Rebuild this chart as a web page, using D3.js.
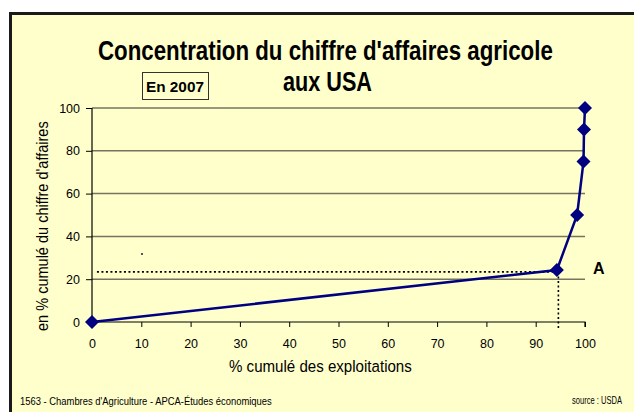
<!DOCTYPE html>
<html>
<head>
<meta charset="utf-8">
<script src="https://cdn.jsdelivr.net/npm/d3@7"></script>
<style>
  body { margin: 0; background: #fff; }
  text { font-family: "Liberation Sans", Arial, sans-serif; }
</style>
</head>
<body>
<svg id="chart"></svg>
<script>
// cumulative % of farms vs cumulative % of turnover (USA, 2007)
const pctFarms = [0, 94.3, 98.4, 99.7, 99.8, 100];
const pctTurnover = [0, 24.3, 50, 75, 90, 100];
const xTicks = [0, 10, 20, 30, 40, 50, 60, 70, 80, 90, 100];
const yTicks = [0, 20, 40, 60, 80, 100];
// point A reference lines
const refX = 94.6;
const refY = 23.4;

const width = 634, height = 412;
const margin = ({ top: 108, right: 49, bottom: 90, left: 92 });

const svg = d3.select("#chart")
    .attr("width", width)
    .attr("height", height);

// frame
svg.append("rect")
    .attr("x", 10.5).attr("y", 13.5)
    .attr("width", width + 10).attr("height", height + 10)
    .attr("fill", "#ffffcc")
    .attr("stroke", "#1a1a1a")
    .attr("stroke-width", 3);

let xScale = d3.scaleLinear().domain([0, 100]).range([margin.left, width - margin.right]);
let yScale = d3.scaleLinear().domain([0, 100]).range([height - margin.bottom, margin.top]);

// the original text is squeezed horizontally: scale each label to its width
function fitText(x, y, w, size, bold, str, rotate) {
    const t = svg.append("text")
        .attr("font-size", size)
        .attr("font-weight", bold ? "bold" : "normal")
        .text(str);
    const nat = t.node().getComputedTextLength();
    const s = w / nat;
    t.attr("transform", `translate(${x},${y})${rotate ? " rotate(-90)" : ""} scale(${s},1)`);
    return t;
}

// gridlines
svg.append("g")
    .selectAll("line")
    .data(yTicks.filter(d => d > 0))
    .join("line")
    .attr("x1", xScale(0)).attr("x2", xScale(100))
    .attr("y1", d => yScale(d)).attr("y2", d => yScale(d))
    .attr("stroke", "#75755e")
    .attr("stroke-width", 1.5);

// axes
const xAxis = svg.append("g")
    .attr("transform", `translate(0,${yScale(0)})`)
    .call(d3.axisBottom(xScale).tickValues(xTicks).tickSize(5).tickPadding(12));
const yAxis = svg.append("g")
    .attr("transform", `translate(${xScale(0)},0)`)
    .call(d3.axisLeft(yScale).tickValues(yTicks).tickSize(6).tickPadding(6));

[xAxis, yAxis].forEach(a => {
    a.select(".domain").attr("stroke", "#000").attr("stroke-width", 1.2);
    a.selectAll(".tick line").attr("stroke", "#000");
    a.selectAll(".tick text")
        .attr("font-size", 12.5)
        .attr("fill", "#000")
        .attr("font-family", "Liberation Sans Narrow, Liberation Sans, Arial, sans-serif");
});
yAxis.select(".domain").attr("d", `M-0,${yScale(100)}V${yScale(0)}`);
xAxis.select(".domain").attr("d", `M${xScale(0)},0H${xScale(100)}V5`);

// dotted reference lines for point A
svg.append("line")
    .attr("x1", xScale(1)).attr("x2", xScale(refX))
    .attr("y1", yScale(refY)).attr("y2", yScale(refY))
    .attr("stroke", "#000").attr("stroke-width", 1.6)
    .attr("stroke-dasharray", "2,2.5");
svg.append("line")
    .attr("x1", xScale(refX)).attr("x2", xScale(refX))
    .attr("y1", yScale(refY)).attr("y2", yScale(0) + 6)
    .attr("stroke", "#000").attr("stroke-width", 1.6)
    .attr("stroke-dasharray", "2,2.5");

// curve
const pts = pctFarms.map((x, i) => [x, pctTurnover[i]]);
svg.append("path")
    .datum(pts)
    .attr("fill", "none")
    .attr("stroke", "#000080")
    .attr("stroke-width", 2.5)
    .attr("d", d3.line().x(d => xScale(d[0])).y(d => yScale(d[1])));

svg.append("g")
    .selectAll("path")
    .data(pts)
    .join("path")
    .attr("transform", d => `translate(${xScale(d[0])},${yScale(d[1])})`)
    .attr("d", "M0,-7L7,0L0,7L-7,0Z")
    .attr("fill", "#000080");

// stray dot
svg.append("rect")
    .attr("x", 141).attr("y", 253).attr("width", 2).attr("height", 2)
    .attr("fill", "#555");

// title
fitText(98, 60, 455, 27, true, "Concentration du chiffre d'affaires agricole");
fitText(283, 91, 89, 27, true, "aux USA");

// year box
svg.append("rect")
    .attr("x", 142.5).attr("y", 72.5).attr("width", 66).attr("height", 27)
    .attr("fill", "none").attr("stroke", "#333").attr("stroke-width", 1);
fitText(146, 92, 58, 15, true, "En 2007");

// point label
svg.append("text")
    .attr("x", 593).attr("y", 274)
    .attr("font-size", 16).attr("font-weight", "bold")
    .text("A");

// axis titles
fitText(229, 372, 183, 17, false, "% cumulé des exploitations");
fitText(48, 331, 210, 16, false, "en % cumulé du chiffre d'affaires", true);

// footer
fitText(20, 405, 252, 10, false, "1563 - Chambres d'Agriculture - APCA-Études économiques");
fitText(572, 404, 50, 10, false, "source : USDA");
</script>
</body>
</html>
